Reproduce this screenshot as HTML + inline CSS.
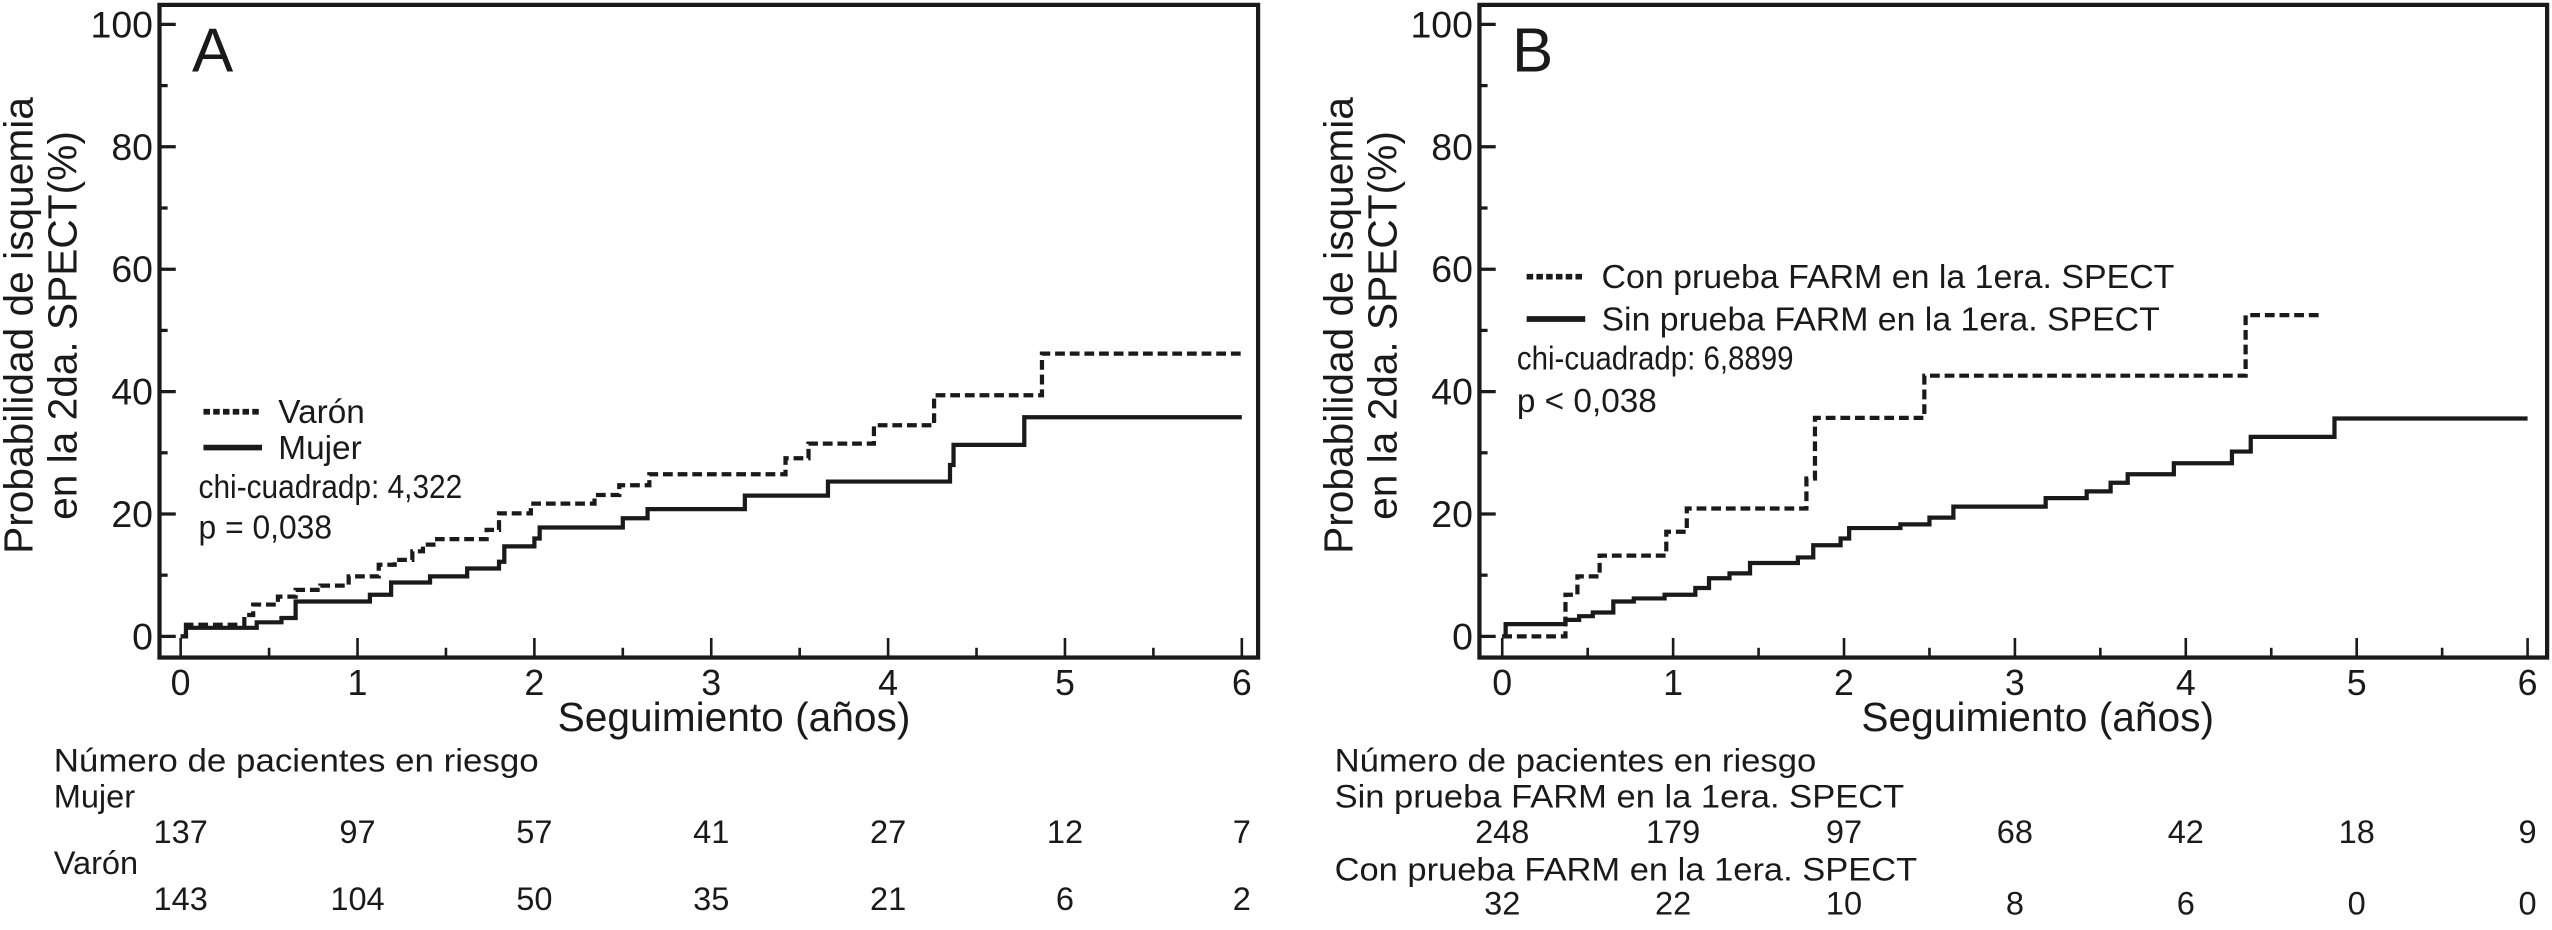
<!DOCTYPE html>
<html><head><meta charset="utf-8"><style>
html,body{margin:0;padding:0;background:#fff;}
svg{display:block;font-family:"Liberation Sans",sans-serif;}
text{fill:#1a1a1a;}
</style></head><body>
<svg id="chart" width="2552" height="930" viewBox="0 0 1568 571.4" preserveAspectRatio="none" xmlns="http://www.w3.org/2000/svg"></svg>
<script>
// ---- Panel A data ----
const varonX = [0,0.03,0.36,0.41,0.55,0.65,0.79,0.95,1.12,1.21,1.31,1.37,1.45,1.73,1.80,1.98,2.34,2.48,2.65,3.42,3.55,3.92,4.26,4.87,6.0];
const varonY = [0,1.9,3.5,5.2,6.5,7.6,8.3,9.8,11.7,12.5,13.9,15,15.9,17.4,20.1,21.7,23.1,24.7,26.5,29.1,31.5,34.5,39.4,46.2,46.2];
const mujerX = [0,0.03,0.43,0.57,0.65,1.07,1.19,1.41,1.62,1.80,1.83,2.00,2.03,2.50,2.64,3.19,3.66,4.35,4.37,4.77,6.0];
const mujerY = [0,1.4,2.3,3,5.7,6.8,8.8,9.8,11.1,12.2,14.7,16,17.8,19.3,20.8,23,25.3,28,31.3,35.8,35.8];
// ---- Panel B data ----
const conX = [0,0.37,0.44,0.57,0.96,1.08,1.78,1.83,2.47,4.35,4.78];
const conY = [0,6.8,9.8,13.2,17.1,20.9,25.8,35.7,42.6,52.5,52.5];
const sinX = [0,0.02,0.37,0.45,0.53,0.65,0.77,0.95,1.13,1.21,1.33,1.45,1.73,1.82,1.98,2.03,2.33,2.50,2.64,3.18,3.42,3.56,3.66,3.93,4.27,4.38,4.87,6.0];
const sinY = [0,2,2.7,3.3,3.9,5.7,6.2,6.8,7.9,9.5,10.3,12,12.9,14.9,16,17.7,18.3,19.4,21.2,22.6,23.7,25.1,26.5,28.3,30.2,32.6,35.6,35.6];
// ---- ticks & risk tables ----
const xTicks = [0,1,2,3,4,5,6];
const yTicks = [0,20,40,60,80,100];
const riskMujer = [137,97,57,41,27,12,7];
const riskVaron = [143,104,50,35,21,6,2];
const riskSin = [248,179,97,68,42,18,9];
const riskCon = [32,22,10,8,6,0,0];

const NS="http://www.w3.org/2000/svg";
const svg=document.getElementById('chart');
function mk(tag,attrs,parent,txt){const e=document.createElementNS(NS,tag);for(const k in attrs)e.setAttribute(k,attrs[k]);if(txt!==undefined)e.textContent=txt;(parent||svg).appendChild(e);return e;}

function panel(cfg){
  const g=mk('g',{});
  
  
  const sx=v=>cfg.x0+v*(cfg.x6-cfg.x0)/6;
  const sy=v=>391-v*3.76;
  // frame
  const fr=mk('rect',{x:cfg.left,y:3,width:cfg.right-cfg.left,height:401,fill:'none',stroke:'#1a1a1a','stroke-width':2.6},g);
  
  
  // y ticks
  for(let v=0;v<=100;v+=10){
    const major=v%20===0;
    const t=mk('line',{x1:cfg.left,x2:cfg.left+(major?10:5),y1:sy(v),y2:sy(v),stroke:'#1a1a1a','stroke-width':2},g);
    
    
  }
  yTicks.forEach(v=>{
    const t=mk('text',{x:cfg.left-4,y:sy(v)+8,'text-anchor':'end','font-size':23},g,String(v));
    
    
  });
  // x ticks
  for(let k=0;k<=12;k++){
    const v=k/2;const major=k%2===0;
    const t=mk('line',{x1:sx(v),x2:sx(v),y1:404,y2:404-(major?12:6),stroke:'#1a1a1a','stroke-width':1.6},g);
    
    
  }
  xTicks.forEach(v=>{
    const t=mk('text',{x:sx(v),y:427,'text-anchor':'middle','font-size':22},g,String(v));
    
    
  });
  const xt=mk('text',{x:(cfg.x0+cfg.x6)/2+14,y:449,'text-anchor':'middle','font-size':25},g,'Seguimiento (años)');
  
  
  // y title
  const yt1=mk('text',{transform:`translate(${cfg.left-78},200) rotate(-90)`,'text-anchor':'middle','font-size':25},g,'Probabilidad de isquemia');
  
  
  const yt2=mk('text',{transform:`translate(${cfg.left-51},200) rotate(-90)`,'text-anchor':'middle','font-size':25},g,'en la 2da. SPECT(%)');
  
  
  const lt=mk('text',{x:cfg.left+20,y:44,'font-size':38},g,cfg.letter);
  
  
  // series
  cfg.series.forEach(s=>{
    let d=`M${sx(s.x[0])},${sy(s.y[0])}`;
    for(let i=1;i<s.x.length;i++){d+=` H${sx(s.x[i])} V${sy(s.y[i])}`;}
    const p=mk('path',{d,fill:'none',stroke:'#1a1a1a','stroke-width':2.6,'stroke-dasharray':s.dash?'6 3':'none'},g);
    
    
  });
  // legend
  cfg.legend.forEach(l=>{
    if(l.line!==undefined){
      const ln=mk('line',{x1:l.x,x2:l.x+36,y1:l.y-7,y2:l.y-7,stroke:'#1a1a1a','stroke-width':l.line?3.5:3.5,'stroke-dasharray':l.line?'none':'4 2'},g);
      
      
    }
    const t=mk('text',{x:l.x+(l.line!==undefined?46:0),y:l.y,'font-size':20.5},g,l.t);
    if(l.w){t.setAttribute('textLength',l.w);t.setAttribute('lengthAdjust','spacingAndGlyphs');}
    
    
  });
  // risk table
  const head=mk('text',{x:cfg.tabX,y:474,'font-size':20},g,'Número de pacientes en riesgo');
  head.setAttribute('textLength',cfg.headW);head.setAttribute('lengthAdjust','spacingAndGlyphs');
  
  
  cfg.rows.forEach((r,ri)=>{
    const ly=ri===0?cfg.r1y:cfg.r2y;
    const lab=mk('text',{x:cfg.tabX,y:ly,'font-size':20},g,r.label);
    if(r.w){lab.setAttribute('textLength',r.w);lab.setAttribute('lengthAdjust','spacingAndGlyphs');}
    
    
    r.vals.forEach((v,i)=>{
      const t=mk('text',{x:sx(xTicks[i]),y:ly+(ri===0?cfg.n1off:cfg.n2off),'text-anchor':'middle','font-size':20},g,String(v));
      
      
    });
  });
}

panel({name:'panel-a',letter:'A',left:98,right:773,x0:111,x6:763,
  series:[{name:'varon-curve',x:varonX,y:varonY,dash:true},{name:'mujer-curve',x:mujerX,y:mujerY,dash:false}],
  legend:[{x:125,y:260,t:'Varón',line:false},{x:125,y:282,t:'Mujer',line:true},{x:122,y:306,t:'chi-cuadradp: 4,322',w:162},{x:122,y:331,t:'p = 0,038',w:82}],
  tabX:33,headW:298,r1y:496,r2y:537,n1off:22,n2off:22,
  rows:[{label:'Mujer',vals:riskMujer},{label:'Varón',vals:riskVaron}]});
panel({name:'panel-b',letter:'B',left:909,right:1565,x0:923,x6:1553,
  series:[{name:'con-farm-curve',x:conX,y:conY,dash:true},{name:'sin-farm-curve',x:sinX,y:sinY,dash:false}],
  legend:[{x:938,y:177,t:'Con prueba FARM en la 1era. SPECT',line:false,w:352},{x:938,y:203,t:'Sin prueba FARM en la 1era. SPECT',line:true,w:343},{x:932,y:227,t:'chi-cuadradp: 6,8899',w:170},{x:932,y:253,t:'p < 0,038',w:86}],
  tabX:820,headW:296,r1y:496,r2y:541,n1off:22,n2off:21,
  rows:[{label:'Sin prueba FARM en la 1era. SPECT',vals:riskSin,w:350},{label:'Con prueba FARM en la 1era. SPECT',vals:riskCon,w:358}]});
</script>
</body></html>
